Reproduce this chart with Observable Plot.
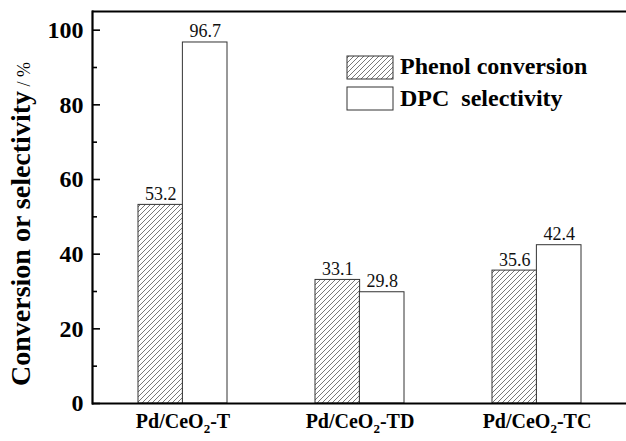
<!DOCTYPE html>
<html><head><meta charset="utf-8">
<script src="https://cdn.jsdelivr.net/npm/d3@7"></script>
<script src="https://cdn.jsdelivr.net/npm/@observablehq/plot@0.6"></script>
<style>body{margin:0;background:#fff} svg{display:block} svg text{font-family:"Liberation Serif","DejaVu Serif",serif !important;}</style>
</head><body><div id="chart"></div>
<script>
const categories = ["Pd/CeO₂-T", "Pd/CeO₂-TD", "Pd/CeO₂-TC"];
const phenolConversion = [53.2, 33.1, 35.6];
const dpcSelectivity = [96.7, 29.8, 42.4];
const seriesNames = ["Phenol conversion", "DPC\u00a0 selectivity"];
const yTicks = [0, 20, 40, 60, 80, 100];
const yMinorTicks = [10, 30, 50, 70, 90];
const yLabelMain = "Conversion or selectivity";
const yLabelUnit = " / %";

const W = 626, H = 441, mL = 92, mT = 11, mB = 38;
const padInner = 0.5, padOuter = 0.254;
const step = (W - mL) / (categories.length - padInner + 2 * padOuter);
const bw = step * (1 - padInner);
const half = bw / 2;
const font = "Liberation Serif, DejaVu Serif, serif";

const rows = categories.map((c, i) => ({category: c, phenol: phenolConversion[i], dpc: dpcSelectivity[i]}));

const plot = Plot.plot({
  width: W, height: H, marginLeft: mL, marginRight: 0, marginTop: mT, marginBottom: mB,
  style: {fontFamily: font, background: "white", color: "#000"},
  x: {domain: categories, paddingInner: padInner, paddingOuter: padOuter, label: null},
  y: {domain: [0, 105], label: null},
  marks: [
    Plot.barY(rows, {x: "category", y: "phenol", insetRight: half, fill: "url(#hatch)", stroke: "#333", strokeWidth: 1}),
    Plot.barY(rows, {x: "category", y: "dpc", insetLeft: half, fill: "white", stroke: "#333", strokeWidth: 1}),
    Plot.text(rows, {x: "category", y: "phenol", text: d => d.phenol.toFixed(1), dx: -half / 2, dy: -5, lineAnchor: "bottom", fontSize: 18, fill: "#111"}),
    Plot.text(rows, {x: "category", y: "dpc", text: d => d.dpc.toFixed(1), dx: half / 2, dy: -5, lineAnchor: "bottom", fontSize: 18, fill: "#111"}),
    Plot.tickY(yTicks, {y: d => d, insetRight: W - mL - 8, stroke: "#000", strokeWidth: 1.6}),
    Plot.tickY(yMinorTicks, {y: d => d, insetRight: W - mL - 5, stroke: "#000", strokeWidth: 1.6}),
    Plot.ruleY([0, 105], {stroke: "#000", strokeWidth: 2.2}),
    Plot.frame({anchor: "left", stroke: "#000", strokeWidth: 2.2}),
    Plot.axisY({ticks: yTicks, tickSize: 0, tickPadding: 9, fontSize: 24, fontWeight: "bold", label: null}),
    Plot.axisX({tickSize: 0, tickPadding: 10, fontSize: 20, fontWeight: "bold", label: null})
  ]
});

const svg = d3.select(plot);
const defs = svg.insert("defs", ":first-child");
const pat = defs.append("pattern").attr("id", "hatch").attr("patternUnits", "userSpaceOnUse").attr("width", 5).attr("height", 5);
pat.append("rect").attr("width", 5).attr("height", 5).attr("fill", "white");
pat.append("path").attr("d", "M-1,1 L1,-1 M0,5 L5,0 M4,6 L6,4").attr("stroke", "#555").attr("stroke-width", 0.8);

// subscripts in x labels
svg.selectAll('g[aria-label="x-axis tick label"] text').each(function() {
  const t = d3.select(this);
  const s = t.text();
  const parts = s.split("₂");
  if (parts.length === 2) {
    t.text("");
    t.append("tspan").text(parts[0]);
    t.append("tspan").attr("font-size", 13).attr("dy", 5).text("2");
    t.append("tspan").attr("dy", -5).text(parts[1]);
  }
});

// y label
const yl = svg.append("text").attr("transform", "translate(30,224) rotate(-90)")
  .attr("text-anchor", "middle").attr("font-family", font).attr("fill", "#000");
yl.append("tspan").attr("font-weight", "bold").attr("font-size", 28).text(yLabelMain);
yl.append("tspan").attr("font-size", 18).text(yLabelUnit);

// legend
const lg = svg.append("g").attr("font-family", font).attr("text-anchor", "start");
seriesNames.forEach((name, i) => {
  lg.append("rect").attr("x", 347).attr("y", 56 + i * 31).attr("width", 46).attr("height", 23)
    .attr("fill", i === 0 ? "url(#hatch)" : "white").attr("stroke", "#333").attr("stroke-width", 1);
  lg.append("text").attr("x", 400).attr("y", 74 + i * 32).attr("font-size", 24).attr("font-weight", "bold")
    .attr("fill", "#000").attr("text-anchor", "start").style("white-space", "pre").text(name);
});

document.getElementById("chart").appendChild(plot);
</script>
</body></html>
